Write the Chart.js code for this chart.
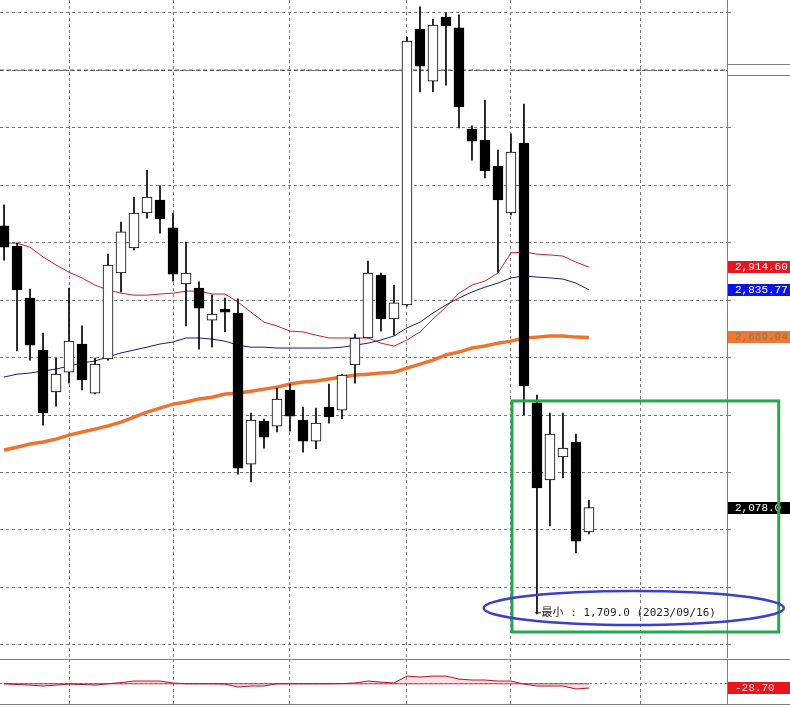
<!DOCTYPE html>
<html>
<head>
<meta charset="utf-8">
<script src="https://cdn.jsdelivr.net/npm/chart.js@4.4.1/dist/chart.umd.min.js"></script>
<style>
  html, body { margin: 0; padding: 0; background: #fff; }
  #wrap { position: relative; width: 790px; height: 707px; overflow: hidden; background: #fff; }
  #mainCanvas { position: absolute; left: 0; top: 0; }
  #subCanvas { position: absolute; left: 0; top: 658px; }
</style>
</head>
<body>
<div id="wrap">
  <canvas id="mainCanvas" width="790" height="658"></canvas>
  <canvas id="subCanvas" width="790" height="49"></canvas>
</div>
<script>
// daily candles, oldest first
const opens  = [3058,2988,2807,2626,2480,2549,2647,2476,2595,2894,2981,3103,3148,3051,2856,2842,2730,2769,2755,2229,2379,2361,2487,2382,2309,2428,2417,2574,2668,2887,2734,2783,3743,3562,3785,3747,3395,3357,3266,3103,3346,2442,2174,2254,2306,1993];
const highs  = [3131,2998,2838,2685,2598,2842,2710,2598,2960,3071,3158,3252,3197,3103,3002,2863,2817,2807,2804,2407,2386,2494,2508,2428,2424,2508,2542,2682,2936,2894,2852,3715,3820,3778,3799,3792,3406,3496,3322,3378,3482,2469,2407,2407,2334,2104];
const lows   = [2939,2623,2591,2365,2431,2511,2487,2473,2591,2828,2974,3085,3033,2866,2710,2629,2636,2689,2194,2167,2285,2341,2344,2271,2282,2372,2386,2511,2668,2692,2678,2779,3524,3524,3548,3399,3287,3225,2897,3096,2400,1709,2014,2181,1920,1986];
const closes = [2984,2835,2643,2407,2542,2657,2522,2577,2922,3037,3103,3158,3082,2890,2894,2772,2751,2758,2215,2382,2323,2455,2396,2309,2372,2393,2539,2668,2894,2734,2790,3701,3614,3757,3754,3472,3353,3249,3148,3315,2501,2146,2334,2285,1961,2078];

// moving averages
const maShort = [2998,2998,2984,2950,2922,2897,2877,2852,2835,2824,2817,2817,2821,2824,2831,2831,2821,2821,2793,2758,2723,2710,2692,2689,2678,2668,2668,2668,2668,2650,2640,2661,2689,2734,2776,2824,2852,2866,2894,2964,2967,2960,2957,2953,2932,2914.6];
const maMid   = [2532,2542,2546,2553,2560,2570,2581,2588,2602,2616,2626,2636,2647,2654,2668,2668,2664,2657,2643,2636,2636,2633,2633,2633,2633,2633,2636,2643,2650,2661,2675,2703,2723,2755,2783,2807,2828,2845,2859,2877,2884,2880,2877,2873,2859,2835.77];
const maLong  = [2278,2288,2299,2306,2316,2330,2341,2351,2362,2375,2393,2410,2424,2438,2445,2456,2462,2473,2476,2483,2490,2497,2508,2515,2518,2525,2532,2539,2542,2546,2549,2563,2577,2591,2609,2619,2633,2640,2650,2657,2668,2671,2675,2675,2671,2669.94];

// lower panel oscillator
const oscValues = [0,-5,-9,-15,-9,-2,-5,-9,0,8,18,18,18,5,0,0,0,-2,-22,-15,-15,0,0,0,0,0,1,5,18,11,5,51,45,51,51,31,25,25,18,18,-2,-15,-15,-15,-35,-28.7];

const gridDays = [5, 13, 22, 31, 39, 49];
const priceTicks = [1600, 1800, 2000, 2200, 2400, 2600, 2800, 3000, 3200, 3400, 3600, 3800];
const levelLine = 3600;
const minIndex = 41;
const minPrice = 1709;
const minText = "←最小 : 1,709.0 (2023/09/16)";

const X_MIN = -0.31, X_MAX = 55.62;
const Y_MIN = 1558, Y_MAX = 3844;

const candleColor = closes.map((c, i) => c >= opens[i] ? "#ffffff" : "#000000");
const pts = arr => arr.map((v, i) => ({ x: i, y: v }));

function drawTag(ctx, yPix, text, bg, fg) {
    ctx.fillStyle = bg;
    ctx.fillRect(728, Math.round(yPix) - 6, 62, 12);
    ctx.fillStyle = fg;
    ctx.font = "11px 'Liberation Mono', 'DejaVu Sans Mono', monospace";
    ctx.textBaseline = "middle";
    ctx.textAlign = "left";
    ctx.fillText(text, 735, Math.round(yPix) + 0.5);
}

const mainOverlay = {
    id: "mainOverlay",
    afterDraw(chart) {
        const ctx = chart.ctx;
        const x = chart.scales.x, y = chart.scales.y;
        ctx.save();

        // empty tag for the level line
        let ly = Math.round(y.getPixelForValue(levelLine));
        ctx.fillStyle = "#fff";
        ctx.fillRect(728, ly - 6, 62, 11);
        ctx.strokeStyle = "#808080";
        ctx.lineWidth = 1;
        ctx.beginPath();
        ctx.moveTo(728, ly - 5.5); ctx.lineTo(790, ly - 5.5);
        ctx.moveTo(728, ly + 5.5); ctx.lineTo(790, ly + 5.5);
        ctx.stroke();

        drawTag(ctx, y.getPixelForValue(maShort[maShort.length - 1]), "2,914.60", "#e8141e", "#ffffff");
        drawTag(ctx, y.getPixelForValue(maMid[maMid.length - 1]), "2,835.77", "#0a14e6", "#ffffff");
        drawTag(ctx, y.getPixelForValue(maLong[maLong.length - 1]), "2,669.94", "#ee7732", "#7a7a7a");
        drawTag(ctx, y.getPixelForValue(closes[closes.length - 1]), "2,078.0", "#000000", "#ffffff");

        // green box round the last week
        let bx1 = x.getPixelForValue(39.08), bx2 = x.getPixelForValue(59.6);
        let by1 = y.getPixelForValue(2449), by2 = y.getPixelForValue(1645);
        ctx.strokeStyle = "#2ca450";
        ctx.lineWidth = 3;
        ctx.strokeRect(bx1, by1, bx2 - bx1, by2 - by1);

        // blue ellipse round the low note
        let ex1 = x.getPixelForValue(36.9), ex2 = x.getPixelForValue(60);
        let ey1 = y.getPixelForValue(1788), ey2 = y.getPixelForValue(1669);
        ctx.beginPath();
        ctx.ellipse((ex1 + ex2) / 2, (ey1 + ey2) / 2, (ex2 - ex1) / 2, (ey2 - ey1) / 2, 0, 0, Math.PI * 2);
        ctx.strokeStyle = "#3b40c8";
        ctx.lineWidth = 2.5;
        ctx.stroke();

        ctx.fillStyle = "#222";
        ctx.font = "11px 'DejaVu Sans Mono', 'Noto Sans CJK JP', monospace";
        ctx.textBaseline = "middle";
        ctx.textAlign = "left";
        ctx.fillText(minText, x.getPixelForValue(minIndex) - 2, y.getPixelForValue(minPrice));

        ctx.restore();
    }
};

const subOverlay = {
    id: "subOverlay",
    afterDraw(chart) {
        const ctx = chart.ctx;
        const area = chart.chartArea;
        const y = chart.scales.y;
        ctx.save();
        ctx.strokeStyle = "#808080";
        ctx.lineWidth = 1;
        ctx.beginPath();
        ctx.moveTo(0, area.top + 0.5); ctx.lineTo(790, area.top + 0.5);
        ctx.moveTo(0, area.bottom + 0.5); ctx.lineTo(790, area.bottom + 0.5);
        ctx.stroke();
        drawTag(ctx, y.getPixelForValue(oscValues[oscValues.length - 1]), "-28.70", "#e8141e", "#ffd8d8");
        ctx.restore();
    }
};

let mainChart = new Chart(document.getElementById("mainCanvas").getContext("2d"), {
    type: "bar",
    data: {
        datasets: [
            {
                label: "body",
                data: opens.map((o, i) => ({ x: i, y: [o, closes[i]] })),
                backgroundColor: candleColor,
                borderColor: "#000",
                borderWidth: 1,
                borderSkipped: false,
                barThickness: 10,
                grouped: false,
                order: 0,
            },
            {
                label: "wick",
                data: lows.map((l, i) => ({ x: i, y: [l, highs[i]] })),
                backgroundColor: "#000",
                borderWidth: 0,
                barThickness: 1,
                grouped: false,
                order: 1,
            },
            {
                type: "line",
                label: "MA short",
                data: pts(maShort),
                borderColor: "#c8202c",
                borderWidth: 1,
                pointRadius: 0,
                order: 2,
            },
            {
                type: "line",
                label: "MA mid",
                data: pts(maMid),
                borderColor: "#1a1a78",
                borderWidth: 1,
                pointRadius: 0,
                order: 3,
            },
            {
                type: "line",
                label: "MA long",
                data: pts(maLong),
                borderColor: "#ec7430",
                borderWidth: 3.5,
                pointRadius: 0,
                order: 4,
            },
            {
                type: "line",
                label: "level",
                data: [{ x: X_MIN, y: levelLine }, { x: X_MAX, y: levelLine }],
                borderColor: "#333",
                borderWidth: 1,
                borderDash: [4, 3],
                pointRadius: 0,
                order: 5,
            },
        ],
    },
    options: {
        responsive: false,
        animation: false,
        devicePixelRatio: 1,
        layout: { padding: { top: 0, bottom: 1, left: 0, right: 0 } },
        plugins: { legend: { display: false }, tooltip: { enabled: false } },
        scales: {
            x: {
                type: "linear",
                min: X_MIN,
                max: X_MAX,
                offset: false,
                afterBuildTicks: (s) => { s.ticks = gridDays.map(v => ({ value: v })); },
                afterFit: (s) => { s.height = 0; },
                ticks: { display: false },
                grid: { offset: false, color: "#7a7a7a", lineWidth: 1, drawTicks: false },
                border: { display: false, dash: [3, 3] },
            },
            y: {
                position: "right",
                min: Y_MIN,
                max: Y_MAX,
                afterBuildTicks: (s) => { s.ticks = priceTicks.map(v => ({ value: v })); },
                afterFit: (s) => { s.width = 63; },
                ticks: { display: false },
                grid: { color: "#7a7a7a", lineWidth: 1, drawTicks: true, tickLength: 6, tickBorderDash: [3, 3] },
                border: { display: true, color: "#808080", width: 1, dash: [3, 3] },
            },
        },
    },
    plugins: [mainOverlay],
});

let subChart = new Chart(document.getElementById("subCanvas").getContext("2d"), {
    type: "line",
    data: {
        datasets: [
            {
                label: "osc",
                data: pts(oscValues),
                borderColor: "#b01428",
                borderWidth: 1,
                pointRadius: 0,
                fill: { target: "origin", above: "rgba(240,150,165,0.3)", below: "rgba(240,150,165,0.3)" },
            },
            {
                label: "zero",
                data: pts(oscValues.map(() => 0)),
                borderColor: "#d81c2c",
                borderWidth: 1,
                pointRadius: 0,
            },
        ],
    },
    options: {
        responsive: false,
        animation: false,
        devicePixelRatio: 1,
        layout: { padding: { top: 1, bottom: 3, left: 0, right: 0 } },
        plugins: { legend: { display: false }, tooltip: { enabled: false } },
        scales: {
            x: {
                type: "linear",
                min: X_MIN,
                max: X_MAX,
                afterBuildTicks: (s) => { s.ticks = gridDays.map(v => ({ value: v })); },
                afterFit: (s) => { s.height = 0; },
                ticks: { display: false },
                grid: { color: "#7a7a7a", lineWidth: 1, drawTicks: false },
                border: { display: false, dash: [3, 3] },
            },
            y: {
                position: "right",
                min: -135,
                max: 165,
                afterBuildTicks: (s) => { s.ticks = [{ value: 0 }]; },
                afterFit: (s) => { s.width = 63; },
                ticks: { display: false },
                grid: { color: "#7a7a7a", lineWidth: 1, drawTicks: false },
                border: { display: true, color: "#808080", width: 1, dash: [2, 3] },
            },
        },
    },
    plugins: [subOverlay],
});
</script>
</body>
</html>
